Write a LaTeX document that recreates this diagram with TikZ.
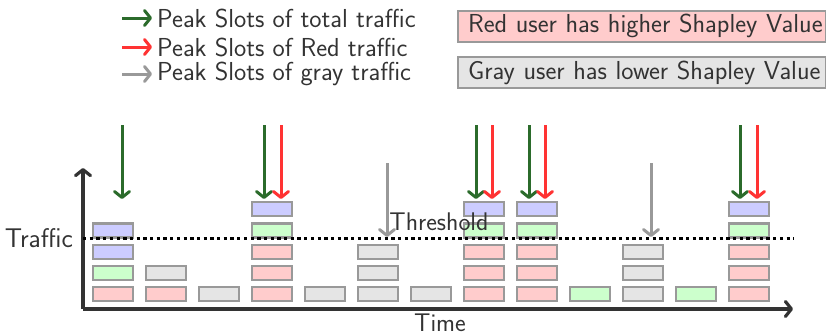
\documentclass[tikz,border=0pt]{standalone}
\usepackage{fontspec}
\usetikzlibrary{arrows.meta}
\definecolor{slotred}{HTML}{FFCCCC}
\definecolor{slotgreen}{HTML}{CCFFCC}
\definecolor{slotblue}{HTML}{CCCCFF}
\definecolor{slotgray}{HTML}{E5E5E5}
\definecolor{slotedge}{HTML}{999999}
\definecolor{pkgreen}{HTML}{2B6B2B}
\definecolor{pkred}{HTML}{FF3333}
\definecolor{pkgray}{HTML}{999999}
\definecolor{axiscol}{HTML}{333333}
\tikzset{
  slot/.style={draw=slotedge, line width=2.2pt, minimum width=40pt, minimum height=14pt, inner sep=0pt},
  pk/.style={line width=3pt, -{Straight Barb[length=6pt,width=15pt,round]}},
  axis/.style={line width=3.2pt, draw=axiscol, -{Straight Barb[length=6pt,width=15pt,round]}},
  lbl/.style={font=\sffamily\fontsize{#1}{30}\selectfont, text=axiscol, inner sep=0pt},
  lbl/.default=26,
  legbox/.style={draw=slotedge, line width=2pt, anchor=west, text width=362pt, inner xsep=3pt, minimum height=31pt, align=left, font=\sffamily\fontsize{26}{30}\selectfont, text=axiscol}
}
\newcommand{\slotcol}[3]{% #1 column index, #2 list of colours bottom-up, #3 name prefix
  \foreach \c [count=\k from 0] in {#2} {
    \node[slot, fill=\c] (#3r\k) at ({113+53*(#1-1)}, {294-21.2*\k}) {};
  }
}
\begin{document}
\begin{tikzpicture}[x=1pt,y=-1pt]
\useasboundingbox (0,0) rectangle (826,335);
% slots
\slotcol{1}{slotred,slotgreen,slotblue,slotblue}{a}
\slotcol{2}{slotred,slotgray}{b}
\slotcol{3}{slotgray}{c}
\slotcol{4}{slotred,slotred,slotred,slotgreen,slotblue}{d}
\slotcol{5}{slotgray}{e}
\slotcol{6}{slotgray,slotgray,slotgray}{f}
\slotcol{7}{slotgray}{g}
\slotcol{8}{slotred,slotred,slotred,slotgreen,slotblue}{h}
\slotcol{9}{slotred,slotred,slotred,slotgreen,slotblue}{i}
\slotcol{10}{slotgreen}{j}
\slotcol{11}{slotgray,slotgray,slotgray}{k}
\slotcol{12}{slotgreen}{l}
\slotcol{13}{slotred,slotred,slotred,slotgreen,slotblue}{m}
% axes
\coordinate (O) at (83,309);
\coordinate (Ytop) at (83,168);
\coordinate (Xend) at (793,309);
\draw[axis] (O) -- (Ytop);
\draw[axis] (O) -- (Xend);
% threshold
\coordinate (T0) at (83,238);
\coordinate (T1) at (794,238);
\draw[line width=3pt, dash pattern=on 3.3pt off 3.4pt] (T0) -- (T1);
\node[lbl=25.5, anchor=center] (thr) at (439,222) {Threshold};
\node[lbl=27, anchor=east] (ylbl) at (73,238) {Traffic};
\node[lbl=25.5, anchor=base] (xlbl) at (440,331) {Time};
% peak arrows
\foreach \x/\col in {122/pkgreen, 264/pkgreen, 281/pkred, 476/pkgreen, 492/pkred, 529/pkgreen, 545/pkred, 740/pkgreen, 757/pkred} {
  \coordinate (s\x) at (\x,125);
  \coordinate (e\x) at (\x,199);
  \draw[pk, draw=\col] (s\x) -- (e\x);
}
\foreach \x in {387, 651} {
  \coordinate (s\x) at (\x,163);
  \coordinate (e\x) at (\x,237);
  \draw[pk, draw=pkgray] (s\x) -- (e\x);
}
% legend
\foreach \y/\col/\txt [count=\n] in {18/pkgreen/total traffic, 47/pkred/Red traffic, 74/pkgray/gray traffic} {
  \coordinate (la\n) at (122,\y);
  \coordinate (lb\n) at (152,\y);
  \draw[pk, draw=\col] (la\n) -- (lb\n);
  \node[lbl, anchor=west] (lt\n) at (157,\y) {Peak Slots of \txt};
}
\node[legbox, fill=slotred] (redbox) at (457,26) {\hspace*{7pt}Red user has higher Shapley Value};
\node[legbox, fill=slotgray] (graybox) at (457,72.5) {\hspace*{7pt}Gray user has lower Shapley Value};
\end{tikzpicture}
\end{document}
